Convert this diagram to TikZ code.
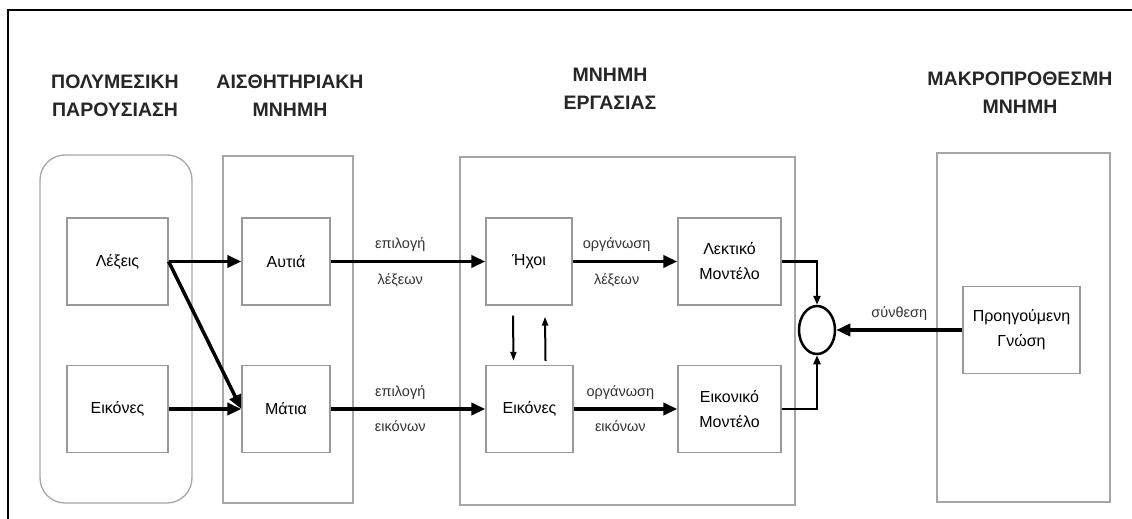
\documentclass[tikz,border=0pt]{standalone}
\usepackage{fontspec}
\setmainfont{Liberation Sans}
\usetikzlibrary{arrows.meta,shapes.geometric}

\begin{document}
\begin{tikzpicture}[x=1pt,y=-1pt,
    every node/.style={inner sep=0pt},
    head/.style={font=\bfseries\fontsize{19.5}{28}\selectfont, align=center, text=black!85},
    panel/.style={draw=black!35, line width=1.3pt},
    box/.style={draw=black!40, line width=1.3pt, minimum height=87pt, align=center,
        font=\fontsize{16}{25}\selectfont, text=black},
    lab/.style={font=\fontsize{14.5}{16}\selectfont, text=black!80},
    flow/.style={line width=3.5pt, -{Triangle[length=14pt,width=12pt]}},
    feed/.style={line width=2.5pt, -{Triangle[length=9pt,width=7pt]}},
    vflow/.style={line width=2pt, -{Triangle[length=9pt,width=6pt]}}]
    \useasboundingbox (0,0) rectangle (1132,519);
    %\draw[help lines] grid(1132,519);

    % frame
    \draw[line width=2.5pt] (8,519) -- (8,10) -- (1132,10);

    % -------------------------
    % Column headers
    % -------------------------
    \node[head] (h1) at (115,96) {ΠΟΛΥΜΕΣΙΚΗ\\ΠΑΡΟΥΣΙΑΣΗ};
    \node[head] (h2) at (290,96) {ΑΙΣΘΗΤΗΡΙΑΚΗ\\ΜΝΗΜΗ};
    \node[head] (h3) at (610,89) {ΜΝΗΜΗ\\ΕΡΓΑΣΙΑΣ};
    \node[head] (h4) at (1020,93) {ΜΑΚΡΟΠΡΟΘΕΣΜΗ\\ΜΝΗΜΗ};

    % -------------------------
    % Panels
    % -------------------------
    \node[panel, rounded corners=25pt, minimum width=152pt, minimum height=348pt] (pres) at (116,329) {};
    \node[panel, minimum width=130pt, minimum height=347pt] (sens) at (288,329.5) {};
    \node[panel, minimum width=335pt, minimum height=348pt] (work) at (627.5,331) {};
    \node[panel, minimum width=173pt, minimum height=349pt] (long) at (1023.5,327.5) {};

    % -------------------------
    % Boxes
    % -------------------------
    \node[box, minimum width=101pt] (lexeis) at (117.5,261.5) {Λέξεις};
    \node[box, minimum width=101pt] (eikones) at (117.5,409) {Εικόνες};
    \node[box, minimum width=88pt] (autia) at (286,261.5) {Αυτιά};
    \node[box, minimum width=88pt] (matia) at (286,409) {Μάτια};
    \node[box, minimum width=86pt] (ixoi) at (529,261.5) {Ήχοι};
    \node[box, minimum width=87pt] (eikwm) at (529.5,409) {Εικόνες};
    \node[box, minimum width=103pt] (lektiko) at (729.5,261.5) {Λεκτικό\\Μοντέλο};
    \node[box, minimum width=103pt] (eikoniko) at (729.5,409) {Εικονικό\\Μοντέλο};
    \node[box, minimum width=117pt] (gnosi) at (1021.5,330) {Προηγούμενη\\Γνώση};

    % integration point
    \node[draw, ellipse, line width=2.5pt, minimum width=36pt, minimum height=48pt] (synth) at (817,330) {};

    % -------------------------
    % Arrows
    % -------------------------
    \draw[flow] (lexeis.east) -- (autia.west);
    \draw[flow] (lexeis.east) -- (matia.west);
    \draw[flow] (eikones.east) -- (matia.west);

    \draw[flow] (autia.east) -- node[lab, pos=0.45, above=8pt] {επιλογή} node[lab, pos=0.45, below=10pt] {λέξεων} (ixoi.west);
    \draw[flow] (matia.east) -- node[lab, pos=0.45, above=8pt] {επιλογή} node[lab, pos=0.45, below=10pt] {εικόνων} (eikwm.west);
    \draw[flow] (ixoi.east) -- node[lab, pos=0.42, above=8pt] {οργάνωση} node[lab, pos=0.42, below=10pt] {λέξεων} (lektiko.west);
    \draw[flow] (eikwm.east) -- node[lab, pos=0.45, above=8pt] {οργάνωση} node[lab, pos=0.45, below=10pt] {εικόνων} (eikoniko.west);

    \draw[vflow] ([xshift=-16pt,yshift=-10pt]ixoi.south) -- ([xshift=-16pt,yshift=4pt]eikwm.north);
    \draw[vflow] ([xshift=16pt,yshift=4pt]eikwm.north) -- ([xshift=16pt,yshift=-11pt]ixoi.south);

    \draw[feed] (lektiko.east) -| (synth.north);
    \draw[feed] (eikoniko.east) -| (synth.south);
    \draw[flow] (gnosi.west) -- node[lab, above=8pt] {σύνθεση} (synth.east);

\end{tikzpicture}
\end{document}
